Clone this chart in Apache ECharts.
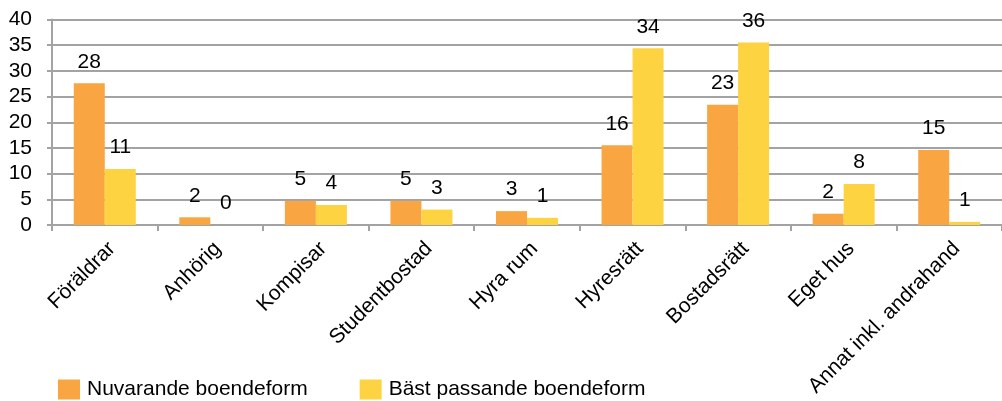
<!DOCTYPE html>
<html>
<head>
<meta charset="utf-8">
<script src="https://cdn.jsdelivr.net/npm/echarts@6/dist/echarts.min.js"></script>
<style>
  html, body { margin: 0; padding: 0; background: #fff; }
  #chart { width: 1002px; height: 401px; }
</style>
</head>
<body>
<div id="chart"></div>
<script>
// Housing types
const categories = ['Föräldrar', 'Anhörig', 'Kompisar', 'Studentbostad', 'Hyra rum',
  'Hyresrätt', 'Bostadsrätt', 'Eget hus', 'Annat inkl. andrahand'];
// Current form of housing (%)
const nuvarande = [27.6, 1.5, 4.7, 4.7, 2.7, 15.5, 23.4, 2.2, 14.6];
// Best suited form of housing (%)
const bastPassande = [10.9, 0, 3.9, 3.0, 1.4, 34.4, 35.5, 8.0, 0.6];
const seriesNames = ['Nuvarande boendeform', 'Bäst passande boendeform'];
const yTicks = { min: 0, max: 40, interval: 5 };

const FONT = '"Liberation Sans", Arial, sans-serif';
const GRAY = '#a3a3a3';

const label = {
  show: true,
  position: 'top',
  distance: 11,
  color: '#000',
  fontFamily: FONT,
  fontSize: 21,
  formatter: p => Math.round(p.value)
};

const chart = echarts.init(document.getElementById('chart'), null, { renderer: 'canvas' });
chart.setOption({
  animation: false,
  backgroundColor: '#fff',
  grid: { left: 52, top: 19.5, bottom: 176, width: 958.5, containLabel: false },
  legend: {
    left: 53,
    top: 374,
    padding: 5,
    itemWidth: 22,
    itemHeight: 20,
    itemGap: 52,
    icon: 'rect',
    textStyle: { color: '#000', fontFamily: FONT, fontSize: 21, padding: [0, 0, 0, 2] },
    data: seriesNames
  },
  xAxis: {
    type: 'category',
    data: categories,
    axisLine: { show: true, lineStyle: { color: GRAY, width: 2 } },
    axisTick: { show: true, length: 6, lineStyle: { color: GRAY, width: 2 } },
    axisLabel: {
      rotate: 45,
      interval: 0,
      margin: 13,
      verticalAlign: 'top',
      color: '#000',
      fontFamily: FONT,
      fontSize: 21
    },
    splitLine: { show: false }
  },
  yAxis: {
    type: 'value',
    min: yTicks.min,
    max: yTicks.max,
    interval: yTicks.interval,
    axisLine: { show: true, lineStyle: { color: GRAY, width: 2 } },
    axisTick: { show: true, length: 5, lineStyle: { color: GRAY, width: 2 } },
    axisLabel: { margin: 20, color: '#000', fontFamily: FONT, fontSize: 21 },
    splitLine: { show: true, lineStyle: { color: GRAY, width: 2 } }
  },
  series: [
    {
      name: seriesNames[0],
      type: 'bar',
      data: nuvarande,
      barWidth: 31,
      barGap: '0%',
      itemStyle: { color: '#F9A642' },
      label: label
    },
    {
      name: seriesNames[1],
      type: 'bar',
      data: bastPassande,
      barWidth: 31,
      barGap: '0%',
      itemStyle: { color: '#FDD342' },
      label: label
    }
  ]
});
</script>
</body>
</html>
